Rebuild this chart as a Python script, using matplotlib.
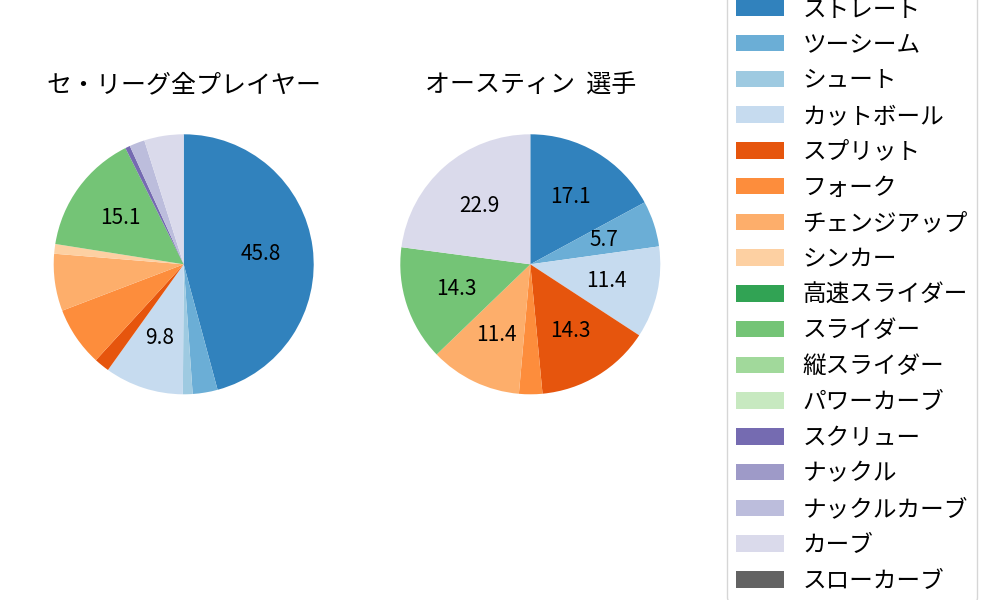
import matplotlib.pyplot as plt
import numpy as np

plt.rcParams['font.family'] = ['Noto Sans CJK JP', 'DejaVu Sans']

# pitch types and share (%) for each group
pitch_types = ['ストレート', 'ツーシーム', 'シュート', 'カットボール', 'スプリット',
               'フォーク', 'チェンジアップ', 'シンカー', '高速スライダー', 'スライダー',
               '縦スライダー', 'パワーカーブ', 'スクリュー', 'ナックル', 'ナックルカーブ',
               'カーブ', 'スローカーブ']
league_pct = [45.8, 3.1, 1.2, 9.8, 1.9, 7.4, 7.1, 1.2, 0.0, 15.1,
              0.0, 0.0, 0.6, 0.0, 1.9, 4.9, 0.0]
player_pct = [17.1, 5.7, 0.0, 11.4, 14.3, 2.9, 11.4, 0.0, 0.0, 14.3,
              0.0, 0.0, 0.0, 0.0, 0.0, 22.9, 0.0]
titles = ['セ・リーグ全プレイヤー', 'オースティン  選手']

colors = list(plt.get_cmap('tab20c').colors[:16]) + [(0.388, 0.388, 0.388)]

fig = plt.figure(figsize=(10, 6), dpi=100)

def draw_pie(cx, data, title, min_label):
    ax = fig.add_axes([(cx - 130) / 1000, (600 - 264.3 - 130) / 600, 260 / 1000, 260 / 600])
    wedges, _, _ = ax.pie(data, colors=colors, startangle=90, counterclock=False,
                          autopct=lambda p: f'{p:.1f}' if p >= min_label else '',
                          pctdistance=0.6, textprops={'fontsize': 15})
    ax.set_xlim(-1, 1)
    ax.set_ylim(-1, 1)
    fig.text(cx / 1000, 1 - 85 / 600, title, ha='center', va='center', fontsize=18)
    return wedges

wedges = draw_pie(183.7, league_pct, titles[0], 9)
draw_pie(530.3, player_pct, titles[1], 5)

fig.legend(wedges, pitch_types, loc='center left', bbox_to_anchor=(0.727, 0.508),
           borderaxespad=0, fontsize=17, labelspacing=0.54)

fig.savefig('out.png')
